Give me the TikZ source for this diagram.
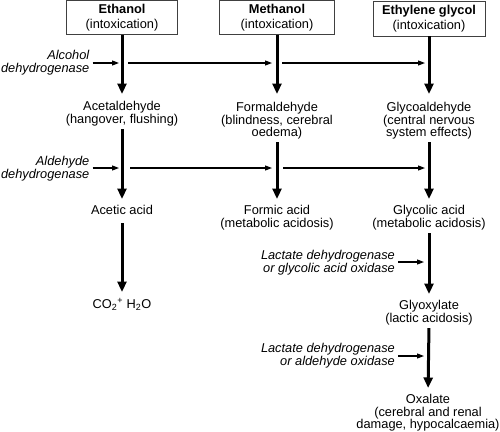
\documentclass[tikz,border=0pt]{standalone}
\usepackage{fontspec}
\setmainfont{Liberation Sans}
\usetikzlibrary{arrows.meta}
\begin{document}
\begin{tikzpicture}[x=1pt,y=-1pt,
  txt/.style={inner sep=0pt, align=center, font=\fontsize{12.8}{12.2}\selectfont, anchor=north},
  enz/.style={inner sep=0pt, align=right, font=\fontsize{12.8}{12.6}\selectfont\itshape, anchor=north east},
  srcbox/.style={draw=black!75, line width=0.8pt, inner sep=0pt, align=center, font=\fontsize{12.8}{15.5}\selectfont},
  mainarr/.style={line width=3pt, -{Triangle[length=10.5pt,width=9pt]}},
  thinarr/.style={line width=1.1pt, -{Triangle[length=7pt,width=5pt]}},
]
\useasboundingbox (0,0) rectangle (500,431);

% source boxes
\node[srcbox, minimum width=111pt, minimum height=34pt] (eth) at (122,17.5) {\textbf{Ethanol}\\(intoxication)};
\node[srcbox, minimum width=115pt, minimum height=34pt] (meth) at (277,17.5) {\textbf{Methanol}\\(intoxication)};
\node[srcbox, minimum width=112pt, minimum height=35pt] (eg) at (429,18.5) {\textbf{Ethylene glycol}\\(intoxication)};

% metabolites
\node[txt] (acetald) at (122,101.5) {Acetaldehyde\\(hangover, flushing)};
\node[txt] (formald) at (277,102.5) {Formaldehyde\\(blindness, cerebral\\oedema)};
\node[txt] (glycald) at (429,102.5) {Glycoaldehyde\\(central nervous\\system effects)};
\node[txt] (acetic) at (122,205.5) {Acetic acid};
\node[txt] (formic) at (277,205.5) {Formic acid\\(metabolic acidosis)};
\node[txt] (glycolic) at (429,205.5) {Glycolic acid\\(metabolic acidosis)};
\node[txt] (co2) at (122,298.5) {CO\textsubscript{2}\textsuperscript{+} H\textsubscript{2}O};
\node[txt] (glyox) at (429,300.5) {Glyoxylate\\(lactic acidosis)};
\node[txt] (oxal) at (428,394.5) {Oxalate\\(cerebral and renal\\damage, hypocalcaemia)};

% enzymes
\node[enz] (adh) at (89.5,50.5) {Alcohol\\dehydrogenase};
\node[enz] (aldh) at (89.5,156) {Aldehyde\\dehydrogenase};
\node[enz] (ldh1) at (395,250.5) {Lactate dehydrogenase\\or glycolic acid oxidase};
\node[enz] (ldh2) at (395,343.5) {Lactate dehydrogenase\\or aldehyde oxidase};

% main arrows
\draw[mainarr, shorten >=7.5pt] (eth.south) -- (acetald.north);
\draw[mainarr, shorten <=3pt, shorten >=6.5pt] (acetald.south) -- (acetic.north);
\draw[mainarr, shorten <=8pt, shorten >=6.5pt] (acetic.south) -- (co2.north);
\draw[mainarr, shorten >=8.5pt] (meth.south) -- (formald.north);
\draw[mainarr, shorten <=3pt, shorten >=6.5pt] (formald.south) -- (formic.north);
\draw[mainarr, shorten >=8.5pt] (eg.south) -- (glycald.north);
\draw[mainarr, shorten <=3pt, shorten >=6.5pt] (glycald.south) -- (glycolic.north);
\draw[mainarr, shorten <=3pt, shorten >=6.5pt] (glycolic.south) -- (glyox.north);
\draw[mainarr, shorten <=3pt, shorten >=6.5pt] (glyox.south) -- (oxal.north);

% enzyme rows
\coordinate (r1a) at (119,63);
\coordinate (r1b) at (128,63);
\coordinate (r1c) at (272,63);
\coordinate (r1d) at (282,63);
\coordinate (r1e) at (425,63);
\coordinate (r2a) at (119,168);
\coordinate (r2b) at (130,168);
\coordinate (r2c) at (272,168);
\coordinate (r2d) at (283,168);
\coordinate (r2e) at (425,168);
\coordinate (r3) at (424,262);
\coordinate (r4) at (424,356);

\draw[thinarr] ([xshift=3pt]adh.east |- r1a) -- (r1a);
\draw[thinarr] (r1b) -- (r1c);
\draw[thinarr] (r1d) -- (r1e);
\draw[thinarr] ([xshift=3pt]aldh.east |- r2a) -- (r2a);
\draw[thinarr] (r2b) -- (r2c);
\draw[thinarr] (r2d) -- (r2e);
\draw[thinarr] ([xshift=3pt]ldh1.east |- r3) -- (r3);
\draw[thinarr] ([xshift=3pt]ldh2.east |- r4) -- (r4);
\end{tikzpicture}
\end{document}
